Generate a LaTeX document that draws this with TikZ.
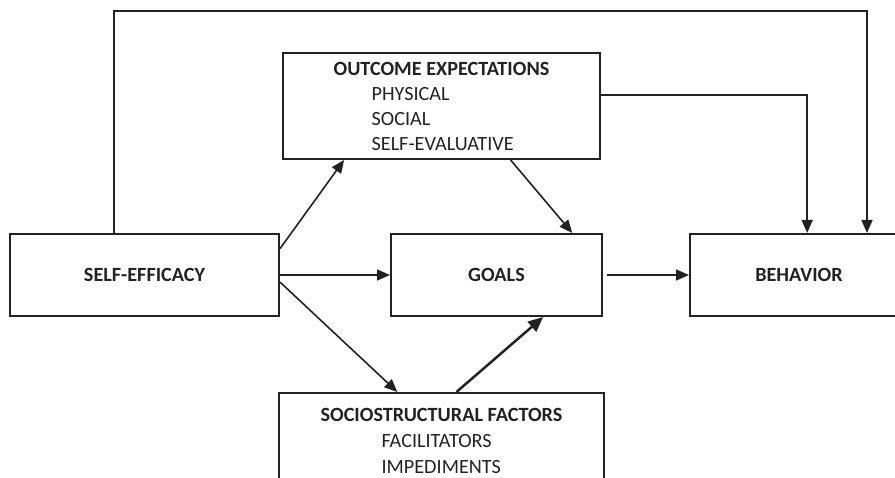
\documentclass[tikz,border=0pt]{standalone}
\usepackage{fontspec}
\setmainfont{Carlito}
\usetikzlibrary{arrows.meta,positioning}
\definecolor{diagline}{HTML}{222222}
\tikzstyle{block} = [rectangle, draw=diagline, line width=2pt, minimum height=82pt,
    text=diagline, font=\fontsize{20.2}{25}\selectfont\bfseries]
\tikzstyle{listblock} = [block, align=left, font=\fontsize{20.2}{25}\selectfont]
\tikzstyle{arrow} = [-{Triangle[length=13pt,width=11pt]}, line width=1.6pt, diagline]
\tikzstyle{thickarrow} = [arrow, -{Triangle[length=15pt,width=13pt]}, line width=2.5pt]

\begin{document}
\begin{tikzpicture}[x=1pt, y=-1pt, node distance=110pt]
\useasboundingbox (0,0) rectangle (895,478);
\node[block, minimum width=269pt] (se) at (144.5,275) {SELF-EFFICACY};
\node[block, minimum width=211pt, right=of se] (goals) {GOALS};
\node[block, minimum width=218pt, right=86pt of goals] (beh) {BEHAVIOR};
\node[listblock, minimum width=317pt, minimum height=106pt] (oe) at (441.5,106)
    {\textbf{OUTCOME EXPECTATIONS}\\\hspace*{38pt}PHYSICAL\\\hspace*{38pt}SOCIAL\\\hspace*{38pt}SELF-EVALUATIVE};
\node[listblock, minimum width=325pt, minimum height=96pt, font=\fontsize{20.2}{26}\selectfont] (soc) at (441.5,441)
    {\textbf{SOCIOSTRUCTURAL FACTORS}\\\hspace*{61pt}FACILITATORS\\\hspace*{61pt}IMPEDIMENTS};
\coordinate (ridge) at (867,11);

\draw[arrow] (se.126.6) |- (ridge) -- (ridge |- beh.north);
\draw[arrow] (oe.4.7) -| (beh.79);
\draw[arrow] (se.11.8) -- (oe.209.3);
\draw[arrow] (se.east) -- (goals.west);
\draw[arrow] (se.-3) -- (soc.132.8);
\draw[arrow] (oe.-38.6) -- (goals.29.8);
\draw[thickarrow] (soc.73.2) -- (goals.-42);
\draw[arrow, shorten <=4pt] (goals.east) -- (beh.west);
\end{tikzpicture}
\end{document}
